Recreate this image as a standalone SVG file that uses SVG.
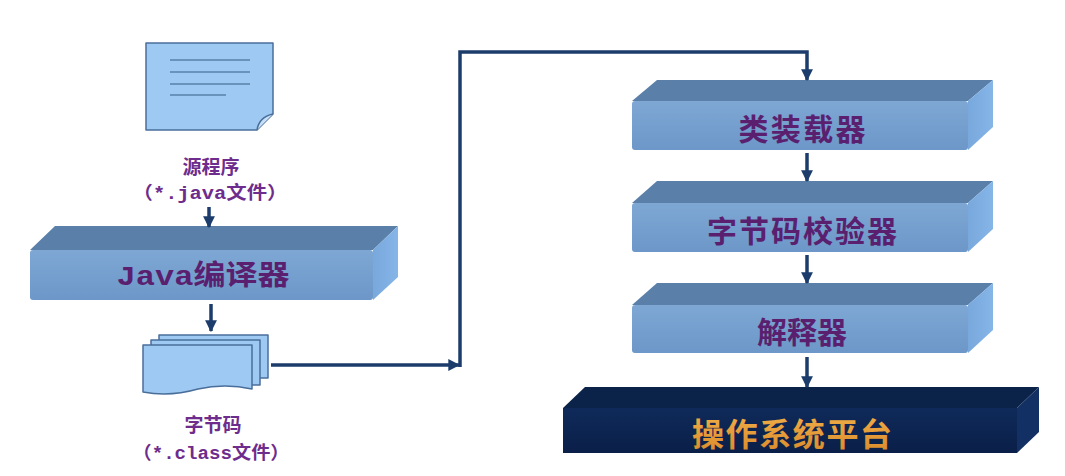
<svg xmlns="http://www.w3.org/2000/svg" width="1065" height="476" viewBox="0 0 1065 476">
  <defs>
    <linearGradient id="frontG" x1="0" y1="0" x2="0" y2="1">
      <stop offset="0" stop-color="#7EA7D4"/>
      <stop offset="1" stop-color="#6C97C8"/>
    </linearGradient>
    <linearGradient id="sideG" x1="0" y1="0" x2="1" y2="0">
      <stop offset="0" stop-color="#78A8DC"/>
      <stop offset="1" stop-color="#86B6E8"/>
    </linearGradient>
    <linearGradient id="osFront" x1="0" y1="0" x2="0" y2="1">
      <stop offset="0" stop-color="#0F2A5A"/>
      <stop offset="1" stop-color="#0A1F48"/>
    </linearGradient>
    <linearGradient id="goldG" x1="0" y1="0" x2="0" y2="1">
      <stop offset="0" stop-color="#F2B24A"/>
      <stop offset="1" stop-color="#D9892A"/>
    </linearGradient>
    <marker id="ah" viewBox="0 0 10 10" refX="9" refY="5" markerWidth="3.4" markerHeight="3.4" orient="auto" markerUnits="strokeWidth">
      <path d="M0,0 L10,5 L0,10 Z" fill="#1C3D6C"/>
    </marker>
  </defs>
  <style>
    .top { fill: #5A80AA; }
    .front { fill: url(#frontG); }
    .side { fill: url(#sideG); }
    .boxtxt { font-family: "Noto Sans CJK SC", "Liberation Sans", sans-serif; font-weight: 700; fill: #5A1F6E; text-anchor: middle; }
    .lbl { font-family: "Noto Sans CJK SC", "Liberation Sans", sans-serif; font-weight: 700; fill: #6E2C8C; text-anchor: middle; font-size: 19px; }
    .lblm { font-family: "Liberation Mono", "Noto Sans CJK SC", monospace; font-weight: 700; fill: #6E2C8C; text-anchor: middle; font-size: 18px; }
    .conn { fill: none; stroke: #1C3D6C; stroke-width: 3.5; }
    .doc { fill: #9DC9F2; stroke: #4A6E9A; stroke-width: 1.5; stroke-linejoin: round; }
    .docline { stroke: #5A80AA; stroke-width: 1.5; }
  </style>
  <rect width="1065" height="476" fill="#FFFFFF"/>

  <g id="source-file">
    <path class="doc" d="M146,43 L273,43 L273,114 L257,130 L146,130 Z"/>
    <path d="M257,130 Q259,117 273,114" fill="#C6E0F8" stroke="#4A6E9A" stroke-width="1.5"/>
    <line class="docline" x1="170" y1="60" x2="250" y2="60"/>
    <line class="docline" x1="170" y1="72" x2="250" y2="72"/>
    <line class="docline" x1="170" y1="84" x2="250" y2="84"/>
    <line class="docline" x1="170" y1="95" x2="226" y2="95"/>
    <text class="lbl" x="211" y="174">源程序</text>
    <text class="lblm" x="210" y="199" textLength="155" lengthAdjust="spacingAndGlyphs">（*.java文件）</text>
  </g>

  <g id="java-compiler">
    <path class="top" d="M30,250 L55,226 L398,226 L373,250 Z"/>
    <path class="side" d="M373,250 L398,226 L398,277 L373,300 Z"/>
    <rect class="front" x="30" y="250" width="343" height="50" rx="3"/>
    <text class="boxtxt" x="203" y="285" font-size="28" textLength="173" lengthAdjust="spacingAndGlyphs"><tspan font-family="Liberation Mono, monospace">Java</tspan>编译器</text>
  </g>

  <g id="bytecode-file">
    <path class="doc" d="M159,335 L268,335 L268,378 L159,378 Z"/>
    <path class="doc" d="M151,340 L260,340 L260,385 L151,385 Z"/>
    <path class="doc" d="M143,345 L252,345 L252,389 Q225,383 198,389 Q170,397 143,392 Z"/>
    <text class="lbl" x="213" y="432">字节码</text>
    <text class="lblm" x="211" y="459" textLength="157" lengthAdjust="spacingAndGlyphs">（*.class文件）</text>
  </g>

  <g id="class-loader">
    <path class="top" d="M632,101 L657,80 L993,80 L968,101 Z"/>
    <path class="side" d="M968,101 L993,80 L993,127 L968,150 Z"/>
    <rect class="front" x="632" y="101" width="336" height="49" rx="3"/>
    <text class="boxtxt" x="802" y="140" font-size="30" textLength="127" lengthAdjust="spacing">类装载器</text>
  </g>

  <g id="bytecode-verifier">
    <path class="top" d="M632,203 L657,181 L993,181 L968,203 Z"/>
    <path class="side" d="M968,203 L993,181 L993,229 L968,252 Z"/>
    <rect class="front" x="632" y="203" width="336" height="49" rx="3"/>
    <text class="boxtxt" x="802" y="242" font-size="30" textLength="190" lengthAdjust="spacing">字节码校验器</text>
  </g>

  <g id="interpreter">
    <path class="top" d="M632,305 L657,283 L993,283 L968,305 Z"/>
    <path class="side" d="M968,305 L993,283 L993,330 L968,353 Z"/>
    <rect class="front" x="632" y="305" width="336" height="48" rx="3"/>
    <text class="boxtxt" x="802" y="343" font-size="30">解释器</text>
  </g>

  <g id="os-platform">
    <path d="M563,408 L585,387 L1039,387 L1017,408 Z" fill="#0C2349"/>
    <path d="M1017,408 L1039,387 L1039,432 L1017,453 Z" fill="#123064"/>
    <rect x="563" y="408" width="454" height="45" fill="url(#osFront)"/>
    <text x="792" y="446" font-size="32" font-family="Noto Sans CJK SC, Liberation Sans, sans-serif" font-weight="700" fill="url(#goldG)" text-anchor="middle" textLength="200" lengthAdjust="spacing">操作系统平台</text>
  </g>

  <g id="connectors">
    <path class="conn" d="M209,207 L209,227" marker-end="url(#ah)"/>
    <path class="conn" d="M211,304 L211,331" marker-end="url(#ah)"/>
    <path class="conn" d="M271,365 L459,365" marker-end="url(#ah)"/>
    <path class="conn" d="M460,367 L460,52 L807,52 L807,80" marker-end="url(#ah)"/>
    <path class="conn" d="M807,153 L807,181" marker-end="url(#ah)"/>
    <path class="conn" d="M807,255 L807,283" marker-end="url(#ah)"/>
    <path class="conn" d="M807,357 L807,387" marker-end="url(#ah)"/>
  </g>
</svg>
